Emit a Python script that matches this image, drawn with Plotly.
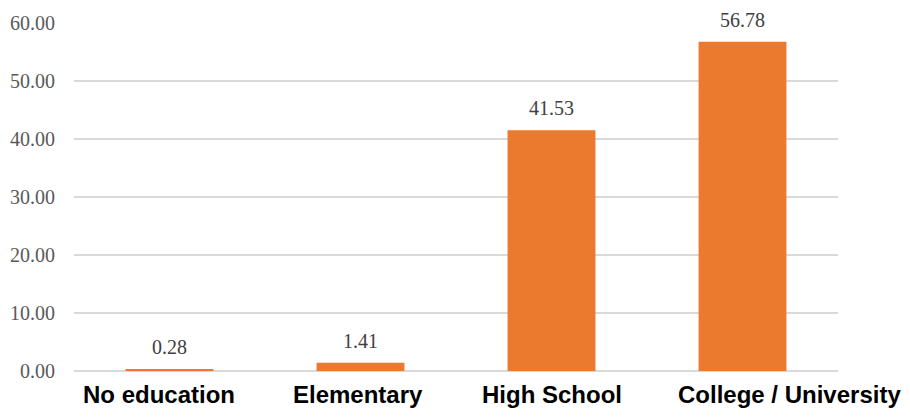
import plotly.graph_objects as go

categories = ["No education", "Elementary", "High School", "College / University"]
values = [0.28, 1.41, 41.53, 56.78]
tick_vals = [0, 10, 20, 30, 40, 50, 60]

fig = go.Figure()
fig.add_trace(go.Bar(
    x=categories, y=values,
    marker=dict(color="#EC7A2E", line=dict(width=0)),
    width=0.46,
))

for c, v in zip(categories, values):
    fig.add_annotation(x=c, y=v, text=f"{v:.2f}", showarrow=False, yshift=22,
                       font=dict(family="Liberation Serif", size=20, color="#404040"))

label_shift = [-11, -3, 0, 47]
for c, s in zip(categories, label_shift):
    fig.add_annotation(x=c, y=0, yref="y", text=f"<b>{c}</b>", showarrow=False,
                       yshift=-23, xshift=s,
                       font=dict(family="Liberation Sans", size=24, color="#000000"))

fig.update_layout(
    width=910, height=417,
    margin=dict(l=74, r=72, t=23, b=46, autoexpand=False),
    paper_bgcolor="white", plot_bgcolor="white",
    showlegend=False,
    xaxis=dict(range=[-0.5, 3.5], showticklabels=False, showgrid=False, zeroline=False,
               showline=False, ticks="", automargin=False),
    yaxis=dict(range=[0, 60], tickvals=tick_vals, tickformat=".2f",
               showgrid=True, gridcolor="#D9D9D9", gridwidth=1.5,
               zeroline=True, zerolinecolor="#D9D9D9", zerolinewidth=1.5,
               showline=False, ticks="", ticklabelstandoff=18, automargin=False,
               tickfont=dict(family="Liberation Serif", size=20, color="#595959")),
)
fig.write_html("out.html")
